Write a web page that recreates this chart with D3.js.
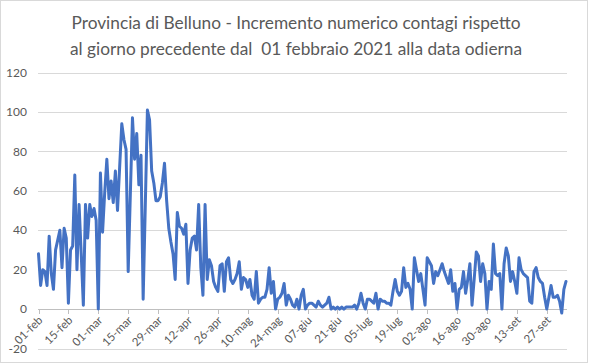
<!DOCTYPE html>
<html><head><meta charset="utf-8">
<script src="https://cdn.jsdelivr.net/npm/d3@7"></script>
<style>body{margin:0;background:#fff} svg{display:block}</style>
</head><body><svg id="c" width="592" height="364"></svg>
<script>
const titleLines = ["Provincia di Belluno - Incremento numerico contagi rispetto", "al giorno precedente dal  01 febbraio 2021 alla data odierna"];
const values = [
 28, 12, 20, 19, 12, 37, 18, 10, 30, 35,
 40, 21, 41, 36, 3, 30, 32, 68, 20, 53,
 28, 2, 53, 36, 53, 47, 51, 45, 0, 69,
 39, 59, 76, 56, 65, 54, 70, 50, 72, 94,
 86, 81, 19, 58, 97, 76, 89, 63, 78, 5,
 52, 101, 96, 70, 64, 55, 55, 57, 64, 74,
 55, 41, 34, 28, 15, 49, 42, 41, 38, 43,
 13, 30, 36, 37, 30, 53, 21, 7, 53, 15,
 25, 22, 14, 11, 9, 22, 23, 9, 24, 26,
 15, 13, 15, 18, 24, 10, 16, 15, 11, 15,
 7, 5, 19, 3, 5, 6, 6, 10, 21, 8,
 14, 0, 5, 6, 8, 13, 2, 7, 5, 2,
 1, 5, 0, 7, 10, 0, 2, 3, 3, 2,
 1, 4, 2, 1, 2, 3, 6, 0, 1, 0,
 1, 0, 1, 0, 1, 1, 1, 1, 2, 0,
 3, 8, 3, 0, 5, 5, 4, 3, 8, 0,
 5, 4, 4, 3, 3, 2, 9, 15, 9, 7,
 9, 21, 11, 13, 10, 0, 26, 20, 14, 18,
 10, 2, 26, 24, 22, 13, 19, 17, 20, 23,
 19, 16, 13, 20, 9, 13, 0, 10, 11, 19,
 8, 15, 23, 2, 15, 29, 27, 14, 23, 18,
 0, 14, 10, 33, 18, 17, 18, 0, 23, 31,
 27, 14, 19, 14, 8, 26, 20, 18, 17, 16,
 4, 3, 19, 21, 16, 14, 13, 6, 0, 6,
 12, 6, 6, 7, 4, -2, 10, 14
];
const tickLabels = ["01-feb","15-feb","01-mar","15-mar","29-mar","12-apr","26-apr","10-mag","24-mag","07-giu","21-giu","05-lug","19-lug","02-ago","16-ago","30-ago","13-set","27-set"];
const tickStep = 14;
const yTicks = [-20, 0, 20, 40, 60, 80, 100, 120];

const svg = d3.select("#c");
const font = "Lato, 'Open Sans', sans-serif";
const textCol = "#595959";

// chart border
svg.append("rect").attr("x", 0.5).attr("y", 0.5).attr("width", 587).attr("height", 362)
  .attr("fill", "#fff").attr("stroke", "#d9d9d9");

const x = d3.scaleLinear().domain([0, values.length - 1]).range([38.5, 566]);
const y = d3.scaleLinear().domain([-20, 120]).range([348.5, 72.5]);
const plotL = 38, plotR = 567;

// gridlines
svg.append("g").selectAll("line").data(yTicks).join("line")
  .attr("x1", plotL).attr("x2", plotR)
  .attr("y1", d => Math.round(y(d)) + 0.5).attr("y2", d => Math.round(y(d)) + 0.5)
  .attr("stroke", "#d9d9d9").attr("stroke-width", 1);

// y labels
svg.append("g").selectAll("text").data(yTicks).join("text")
  .attr("x", 27).attr("y", d => y(d)).attr("dy", "0.35em")
  .attr("text-anchor", "end").attr("font-family", font).attr("font-size", 12)
  .attr("fill", textCol).text(d => d);

// x axis at 0
const tickIdx = tickLabels.map((_, i) => i * tickStep);
svg.append("line").attr("x1", plotL).attr("x2", plotR)
  .attr("y1", Math.round(y(0)) + 0.5).attr("y2", Math.round(y(0)) + 0.5)
  .attr("stroke", "#bfbfbf");
svg.append("g").selectAll("line").data(tickIdx).join("line")
  .attr("x1", d => Math.round(x(d)) + 0.5).attr("x2", d => Math.round(x(d)) + 0.5)
  .attr("y1", Math.round(y(0))).attr("y2", Math.round(y(0)) + 5)
  .attr("stroke", "#bfbfbf");

svg.append("g").selectAll("text").data(tickLabels).join("text")
  .attr("transform", (d, i) => `translate(${x(tickIdx[i]) + 2},${y(0) + 9}) rotate(-45)`)
  .attr("text-anchor", "end").attr("dy", "0.35em")
  .attr("font-family", font).attr("font-size", 11.5).attr("fill", textCol)
  .text(d => d);

// line
const line = d3.line().x((d, i) => x(i)).y(d => y(d)).curve(d3.curveLinear);
svg.append("path").datum(values).attr("d", line)
  .attr("fill", "none").attr("stroke", "#4472c4").attr("stroke-width", 3)
  .attr("stroke-linejoin", "round").attr("stroke-linecap", "round");

// title
svg.append("g").selectAll("text").data(titleLines).join("text")
  .attr("x", 296).attr("y", (d, i) => 29 + i * 25.5)
  .attr("text-anchor", "middle").attr("font-family", font).attr("font-size", 17.3)
  .attr("fill", textCol).style("white-space", "pre").text(d => d);
</script>
</body></html>
